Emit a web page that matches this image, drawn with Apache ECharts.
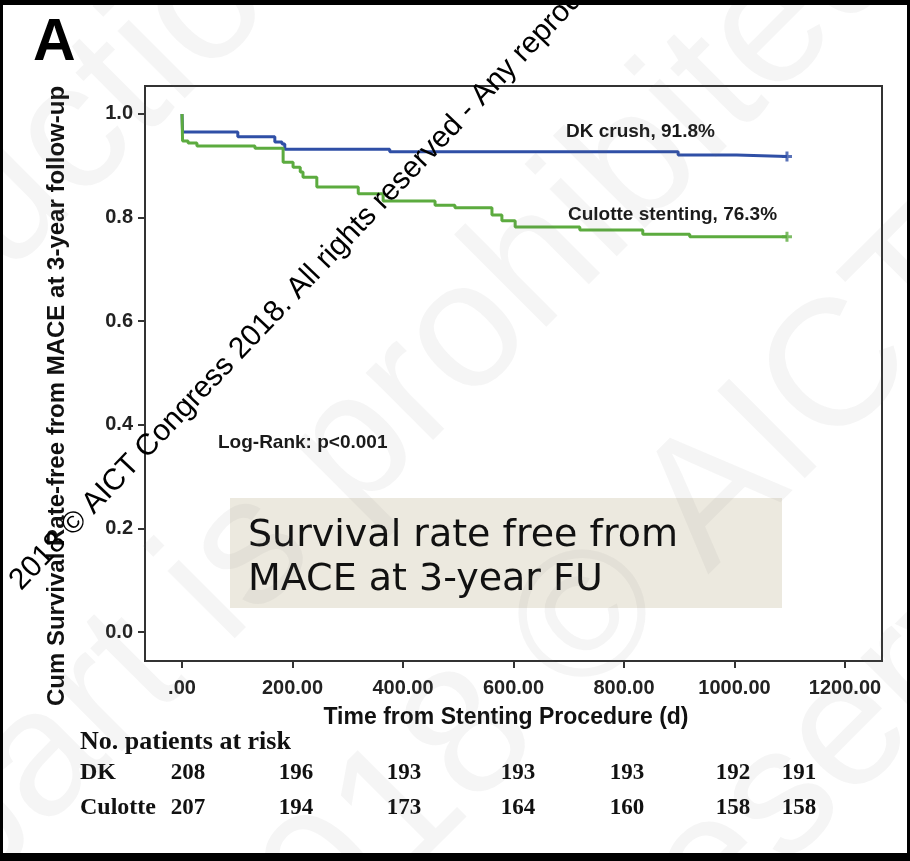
<!DOCTYPE html>
<html>
<head>
<meta charset="utf-8">
<script src="https://cdn.jsdelivr.net/npm/echarts@6/dist/echarts.min.js"></script>
<style>
html, body { margin: 0; padding: 0; background: #fff; }
#chart { width: 910px; height: 861px; }
</style>
</head>
<body>
<div id="chart"></div>
<script>
// Kaplan-Meier steps: [day, cum survival]
const dkCurve = [
  [0, 1.0], [1, 0.965], [101, 0.956], [168, 0.946], [181, 0.942], [186, 0.932],
  [376, 0.927], [898, 0.921], [1004, 0.918], [1095, 0.918]
]
const culotteCurve = [
  [0, 1.0], [1, 0.948], [11, 0.944], [27, 0.938], [132, 0.934], [183, 0.907],
  [201, 0.897], [214, 0.888], [219, 0.878], [244, 0.859], [319, 0.846], [364, 0.832],
  [458, 0.824], [494, 0.819], [561, 0.805], [579, 0.794], [603, 0.782], [720, 0.776],
  [834, 0.768], [919, 0.763], [1095, 0.763]
]
const xTicks = [0, 200, 400, 600, 800, 1000, 1200]
const yTicks = [0, 0.2, 0.4, 0.6, 0.8, 1.0]

// patients at risk table
const riskGroups = ['DK', 'Culotte']
const dkAtRisk = [208, 196, 193, 193, 193, 192, 191]
const culotteAtRisk = [207, 194, 173, 164, 160, 158, 158]

const blue = '#2f4fa6'
const green = '#5cab3f'
const axisColor = '#333'
const plusSymbol = 'path://M3.5,0H6.5V10H3.5Z M0,3.5H10V6.5H0Z'
const last = arr => arr[arr.length - 1]

// risk table column centres (px)
const riskCols = [188, 296, 404, 518, 627, 733, 799]
const riskRowsY = [773, 808]

const tickFont = { fontFamily: 'Arial, "Liberation Sans"', fontWeight: 'bold', fontSize: 20, color: '#222' }

const riskText = []
riskText.push({
  type: 'text', x: 80, y: 742, z: 50,
  style: { text: 'No. patients at risk', font: 'bold 26px "Liberation Serif"', fill: '#111', verticalAlign: 'middle' }
})
;[dkAtRisk, culotteAtRisk].forEach((row, r) => {
  riskText.push({
    type: 'text', x: 80, y: riskRowsY[r], z: 50,
    style: { text: riskGroups[r], font: 'bold 24px "Liberation Serif"', fill: '#111', verticalAlign: 'middle' }
  })
  row.forEach((v, i) => {
    riskText.push({
      type: 'text', x: riskCols[i], y: riskRowsY[r], z: 50,
      style: { text: String(v), font: 'bold 23px "Liberation Serif"', fill: '#111', align: 'center', verticalAlign: 'middle' }
    })
  })
})

// faint diagonal watermark + black copyright line
const wmFill = 'rgba(120,120,120,0.07)'
const wmFont = '180px "Liberation Sans"'
const watermark = [
  { x: -333, y: 673, text: 'reproduction in' },
  { x: 0, y: 930, text: 'part is prohibited' },
  { x: 289, y: 1051, text: '2018 © AICT Congress' },
  { x: 700, y: 1010, text: 'reserved' }
].map(w => ({
  type: 'text', x: w.x, y: w.y, rotation: Math.PI / 4, z: 80, silent: true,
  style: { text: w.text, font: wmFont, fill: wmFill, verticalAlign: 'bottom' }
}))

const option = {
  backgroundColor: '#fff',
  animation: false,
  grid: { left: 145, top: 86, width: 737, height: 575, show: true, borderColor: axisColor, borderWidth: 2 },
  xAxis: {
    type: 'value', min: -67, max: 1267,
    splitLine: { show: false },
    axisLine: { onZero: false, lineStyle: { color: axisColor, width: 2 } },
    axisTick: { customValues: xTicks, length: 7, lineStyle: { color: axisColor, width: 2 } },
    axisLabel: Object.assign({ customValues: xTicks, margin: 17, formatter: v => v === 0 ? '.00' : v.toFixed(2) }, tickFont)
  },
  yAxis: {
    type: 'value', min: -0.056, max: 1.054,
    splitLine: { show: false },
    axisLine: { onZero: false, lineStyle: { color: axisColor, width: 2 } },
    axisTick: { customValues: yTicks, length: 7, lineStyle: { color: axisColor, width: 2 } },
    axisLabel: Object.assign({ customValues: yTicks, margin: 12, formatter: v => v.toFixed(1) }, tickFont)
  },
  series: [
    { name: 'DK crush', type: 'line', step: 'end', data: dkCurve, showSymbol: false, lineStyle: { color: blue, width: 3 }, z: 3 },
    { name: 'Culotte stenting', type: 'line', step: 'end', data: culotteCurve, showSymbol: false, lineStyle: { color: green, width: 3 }, z: 3 },
    {
      type: 'scatter', symbol: plusSymbol, symbolSize: 10, z: 4,
      data: [{ value: last(dkCurve), itemStyle: { color: blue } }, { value: last(culotteCurve), itemStyle: { color: green } }]
    }
  ],
  graphic: {
    elements: [
      { type: 'text', x: 33, y: 44, z: 50, style: { text: 'A', font: 'bold 59px Arial, "Liberation Sans"', fill: '#000', verticalAlign: 'middle' } },
      {
        type: 'text', x: 57, y: 396, rotation: Math.PI / 2, z: 50,
        style: { text: 'Cum Survival Rate-free from MACE at 3-year follow-up', font: 'bold 24px Arial, "Liberation Sans"', fill: '#111', align: 'center', verticalAlign: 'middle' }
      },
      {
        type: 'text', x: 506, y: 718, z: 50,
        style: { text: 'Time from Stenting Procedure (d)', font: 'bold 23px Arial, "Liberation Sans"', fill: '#111', align: 'center', verticalAlign: 'middle' }
      },
      { type: 'text', x: 566, y: 132, z: 50, style: { text: 'DK crush, 91.8%', font: 'bold 19px Arial, "Liberation Sans"', fill: '#1a1a1a', verticalAlign: 'middle' } },
      { type: 'text', x: 568, y: 215, z: 50, style: { text: 'Culotte stenting, 76.3%', font: 'bold 19px Arial, "Liberation Sans"', fill: '#1a1a1a', verticalAlign: 'middle' } },
      { type: 'text', x: 218, y: 443, z: 50, style: { text: 'Log-Rank: p<0.001', font: 'bold 19px Arial, "Liberation Sans"', fill: '#1a1a1a', verticalAlign: 'middle' } },
      // beige caption box
      { type: 'rect', z: 20, shape: { x: 230, y: 498, width: 552, height: 110 }, style: { fill: '#ece9df' } },
      {
        type: 'text', x: 248, y: 514, z: 21,
        style: { text: 'Survival rate free from\nMACE at 3-year FU', font: '38px "DejaVu Sans"', lineHeight: 44, fill: '#111', verticalAlign: 'top' }
      },
      ...riskText,
      ...watermark,
      {
        type: 'text', x: 26, y: 596, rotation: 0.81, z: 90, silent: true,
        style: { text: '2018 © AICT Congress 2018. All rights reserved - Any reproduction in part is prohibited', font: '30px Arial, "Liberation Sans"', fill: '#000', verticalAlign: 'bottom' }
      },
      // black photo frame
      { type: 'rect', z: 100, shape: { x: 0, y: 0, width: 910, height: 5 }, style: { fill: '#000' } },
      { type: 'rect', z: 100, shape: { x: 0, y: 0, width: 3, height: 861 }, style: { fill: '#000' } },
      { type: 'rect', z: 100, shape: { x: 907, y: 0, width: 3, height: 861 }, style: { fill: '#000' } },
      { type: 'rect', z: 100, shape: { x: 0, y: 853, width: 910, height: 8 }, style: { fill: '#000' } }
    ]
  }
}

const chart = echarts.init(document.getElementById('chart'))
chart.setOption(option)
</script>
</body>
</html>
